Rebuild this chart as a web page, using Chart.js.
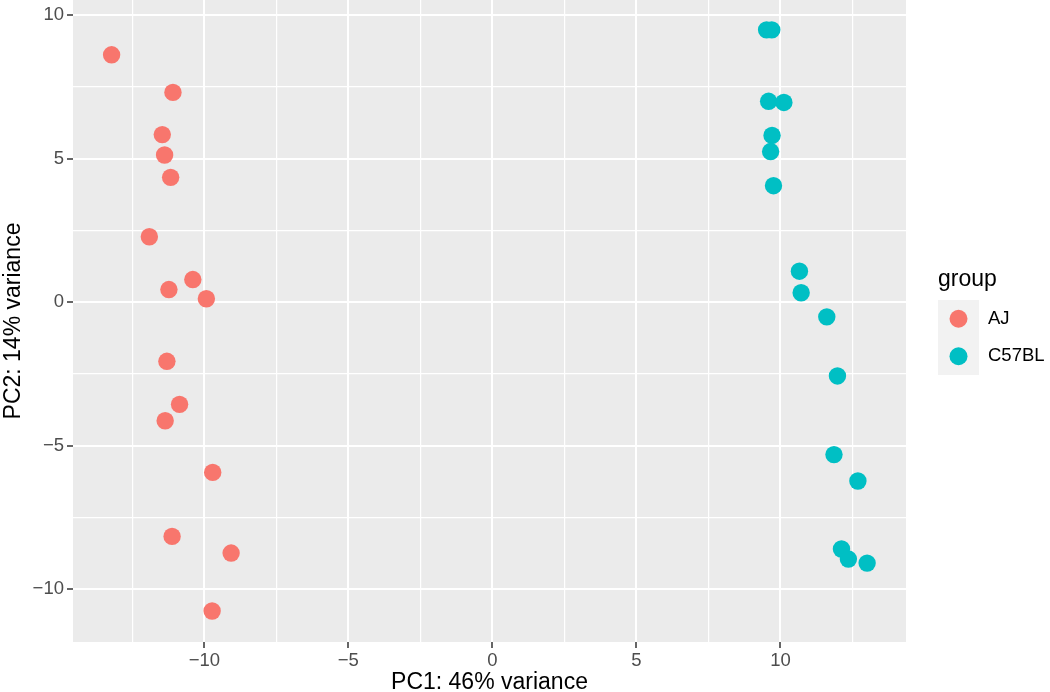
<!DOCTYPE html>
<html>
<head>
<meta charset="utf-8">
<script src="https://cdn.jsdelivr.net/npm/chart.js@4.4.0/dist/chart.umd.min.js"></script>
<style>
  body { margin: 0; background: #fff; }
</style>
</head>
<body>
<canvas id="pca" width="1050" height="692"></canvas>
<script>
// data
const groups = ["AJ", "C57BL"];
const groupColors = ["#F8766D", "#00BFC4"];

const ajPC1 = [-13.22, -11.09, -11.46, -11.38, -11.17, -11.91, -10.40, -11.23, -9.93,
               -11.30, -10.86, -11.36, -9.71, -11.12, -9.07, -9.73];
const ajPC2 = [8.62, 7.31, 5.84, 5.13, 4.35, 2.28, 0.79, 0.44, 0.12,
               -2.06, -3.56, -4.13, -5.93, -8.16, -8.74, -10.76];

const c57PC1 = [9.52, 9.70, 9.59, 10.12, 9.71, 9.66, 9.76, 10.66, 10.72,
                11.61, 11.98, 11.86, 12.69, 12.12, 12.36, 13.01];
const c57PC2 = [9.49, 9.49, 7.00, 6.96, 5.81, 5.25, 4.06, 1.08, 0.33,
                -0.51, -2.57, -5.31, -6.23, -8.60, -8.95, -9.09];

const xTicks = [-12.5, -10, -7.5, -5, -2.5, 0, 2.5, 5, 7.5, 10, 12.5];
const yTicks = [-10, -7.5, -5, -2.5, 0, 2.5, 5, 7.5, 10];

const xTitle = "PC1: 46% variance";
const yTitle = "PC2: 14% variance";
const legendTitle = "group";

const FONT = "'Liberation Sans', Arial, sans-serif";
Chart.defaults.font.family = FONT;

function toPoints(xs, ys) {
  return xs.map((x, i) => ({ x: x, y: ys[i] }));
}

function isMajor(v) {
  return Math.abs(v % 5) < 1e-9;
}

function fmt(v) {
  if (!isMajor(v)) return "";
  return v < 0 ? "\u2212" + Math.abs(v) : String(v);
}

// grey panel like ggplot
const panelBg = {
  id: "panelBg",
  beforeDraw(chart) {
    const { ctx, chartArea: a } = chart;
    ctx.save();
    ctx.fillStyle = "#EBEBEB";
    ctx.fillRect(a.left, a.top, a.right - a.left, a.bottom - a.top);
    ctx.restore();
  }
};

// legend drawn at the right, ggplot style
const sideLegend = {
  id: "sideLegend",
  afterDraw(chart) {
    const ctx = chart.ctx;
    const x0 = 938, keyW = 41, keyH = 37.5, top = 300;
    ctx.save();
    ctx.fillStyle = "#000";
    ctx.font = "23px " + FONT;
    ctx.textBaseline = "alphabetic";
    ctx.textAlign = "left";
    ctx.fillText(legendTitle, x0, 286);

    ctx.fillStyle = "#F2F2F2";
    ctx.fillRect(x0, top, keyW, keyH * groups.length);

    groups.forEach((g, i) => {
      const cy = top + keyH * i + keyH / 2;
      ctx.fillStyle = groupColors[i];
      ctx.beginPath();
      ctx.arc(x0 + keyW / 2, cy, 9, 0, Math.PI * 2);
      ctx.fill();
      ctx.fillStyle = "#000";
      ctx.font = "18.5px " + FONT;
      ctx.textBaseline = "middle";
      ctx.fillText(g, 988, cy);
    });
    ctx.restore();
  }
};

function gridOpts() {
  return {
    color: "#FFFFFF",
    lineWidth: c => (c.tick && isMajor(c.tick.value)) ? 2 : 1.2,
    drawTicks: true,
    tickLength: 6,
    tickWidth: 1.5,
    tickColor: c => (c.tick && isMajor(c.tick.value)) ? "#333333" : "rgba(0,0,0,0)"
  };
}

new Chart(document.getElementById("pca"), {
  type: "scatter",
  data: {
    datasets: [
      {
        label: groups[0],
        data: toPoints(ajPC1, ajPC2),
        backgroundColor: groupColors[0],
        borderWidth: 0,
        pointRadius: 8.7,
        pointHoverRadius: 8.7
      },
      {
        label: groups[1],
        data: toPoints(c57PC1, c57PC2),
        backgroundColor: groupColors[1],
        borderWidth: 0,
        pointRadius: 8.7,
        pointHoverRadius: 8.7
      }
    ]
  },
  options: {
    responsive: false,
    animation: false,
    events: [],
    layout: {
      autoPadding: false,
      padding: { top: 0, right: 144, bottom: 0, left: 0 }
    },
    plugins: {
      legend: { display: false },
      tooltip: { enabled: false }
    },
    scales: {
      x: {
        type: "linear",
        min: -14.56,
        max: 14.36,
        afterBuildTicks: s => { s.ticks = xTicks.map(v => ({ value: v })); },
        afterFit: s => { s.height = 50; s.paddingLeft = 0; s.paddingRight = 0; },
        grid: gridOpts(),
        border: { display: false },
        ticks: {
          autoSkip: false,
          maxRotation: 0,
          padding: 2,
          color: "#4D4D4D",
          font: { size: 18.5 },
          callback: v => fmt(v)
        },
        title: {
          display: true,
          text: xTitle,
          color: "#000",
          font: { size: 23 },
          padding: { top: 0, bottom: -4 }
        }
      },
      y: {
        type: "linear",
        min: -11.84,
        max: 10.53,
        afterBuildTicks: s => { s.ticks = yTicks.map(v => ({ value: v })); },
        afterFit: s => { s.width = 73; s.paddingTop = 0; s.paddingBottom = 0; },
        grid: gridOpts(),
        border: { display: false },
        ticks: {
          autoSkip: false,
          padding: 3,
          color: "#4D4D4D",
          font: { size: 18.5 },
          callback: v => fmt(v)
        },
        title: {
          display: true,
          text: yTitle,
          color: "#000",
          font: { size: 23 },
          padding: { top: 0, bottom: 0 }
        }
      }
    }
  },
  plugins: [panelBg, sideLegend]
});
</script>
</body>
</html>
